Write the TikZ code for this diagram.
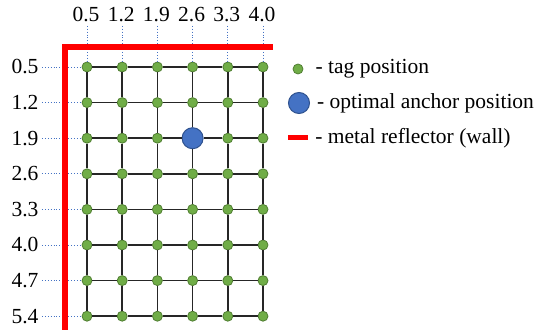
\documentclass[tikz,border=0pt]{standalone}
\usepackage{fontspec}
\setmainfont{Liberation Serif}
\usetikzlibrary{positioning}

\definecolor{tagfill}{HTML}{70AD47}
\definecolor{tagline}{HTML}{507E32}
\definecolor{anchorfill}{HTML}{4472C4}
\definecolor{anchorline}{HTML}{2F528F}
\definecolor{wallred}{HTML}{FF0000}

\begin{document}
\begin{tikzpicture}[
    x=1pt, y=-1pt,
    tag/.style={circle, draw=tagline, fill=tagfill, line width=0.8pt, minimum size=10pt, inner sep=0pt},
    anchorpos/.style={circle, draw=anchorline, fill=anchorfill, line width=1pt, minimum size=21pt, inner sep=0pt},
    gridline/.style={line width=1.5pt, black!85},
    guide/.style={anchorfill, dotted, line width=0.9pt},
    wall/.style={wallred, line width=6pt},
    every node/.style={font=\rmfamily\fontsize{21.5}{25}\selectfont}
]

\useasboundingbox (0,0) rectangle (536,331);

% column labels (top) and row labels (left)
\foreach \v [count=\i] in {0.5,1.2,1.9,2.6,3.3,4.0}
    \node (c\i) at ({86+35.2*(\i-1)}, 15) {\v};
\foreach \v [count=\j] in {0.5,1.2,1.9,2.6,3.3,4.0,4.7,5.4}
    \node (r\j) at (25, {67+35.6*(\j-1)}) {\v};

% tag positions
\foreach \i in {1,...,6}
    \foreach \j in {1,...,8}
        \node[tag] (g\i-\j) at ({87+35.2*(\i-1)}, {67+35.6*(\j-1)}) {};

% optimal anchor takes the place of tag (2.6, 1.9)
\node[anchorpos] (g4-3) at (g4-3) {};

% grid lines
\foreach \j in {1,...,8}
    \foreach \i [count=\k from 2] in {1,...,5}
        \draw[gridline] (g\i-\j) -- (g\k-\j);
\foreach \i in {1,...,6}
    \foreach \j [count=\k from 2] in {1,...,7}
        \draw[gridline] (g\i-\j) -- (g\i-\k);

% dotted guides from labels
\foreach \i in {1,...,6}
    \draw[guide] (g\i-1 |- c\i.south) -- (g\i-1);
\foreach \j in {1,...,8}
    \draw[guide] (r\j) -- (g1-\j);

% wall
\coordinate (wallbot) at (65,330);
\coordinate (wallcorner) at (65,47);
\coordinate (wallend) at (273,47);
\draw[wall] (wallbot) -- (wallcorner) -- (wallend);

% legend
\node[tag] (legtag) at (298,69) {};
\node[right=12pt of legtag, inner sep=0pt] (legtagtxt) {- tag position};

\node[anchorpos] (leganchor) at (299,103) {};
\node[right=7pt of leganchor, inner sep=0pt] (leganchortxt) {- optimal anchor position};

\node[fill=wallred, minimum width=20pt, minimum height=5pt, inner sep=0pt] (legwall) at (298,138) {};
\node[right=7pt of legwall, inner sep=0pt] (legwalltxt) {- metal reflector (wall)};

\end{tikzpicture}
\end{document}
